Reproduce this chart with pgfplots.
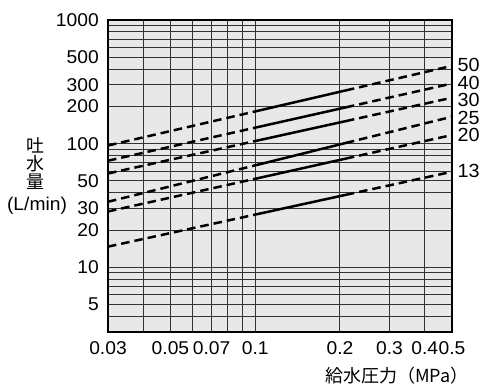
\documentclass[border=0pt]{standalone}
\usepackage{fontspec}
\setmainfont[FakeStretch=1.04]{Liberation Sans}
\newfontfamily\cjk{Noto Sans CJK JP}
\usepackage{pgfplots}
\pgfplotsset{compat=1.18}
\begin{document}
\begin{tikzpicture}
\useasboundingbox (-108pt,-59pt) rectangle (392pt,332pt);
\begin{axis}[
  at={(0pt,0pt)}, anchor=south west,
  scale only axis, width=344pt, height=312pt,
  xmode=log, ymode=log,
  xmin=0.03, xmax=0.5, ymin=3, ymax=1000,
  clip mode=individual,
  axis background/.style={fill=gray!18},
  axis line style={line width=2.2pt, black},
  grid=major,
  major grid style={black!80, line width=1pt},
  major tick length=0pt, minor tick length=0pt,
  xtick={0.03,0.04,0.05,0.06,0.07,0.08,0.09,0.1,0.2,0.3,0.4,0.5},
  xticklabels={0.03,{},0.05,{},0.07,{},{},0.1,0.2,0.3,0.4,0.5},
  ytick={3,4,5,6,7,8,9,10,20,30,40,50,60,70,80,90,100,200,300,400,500,600,700,800,900,1000},
  yticklabels={{},{},5,{},{},{},{},10,20,30,{},50,{},{},{},{},100,200,300,{},500,{},{},{},{},1000},
  xticklabel style={font=\fontsize{18.5}{20}\selectfont, anchor=north, inner sep=0pt, yshift=-9pt},
  yticklabel style={font=\fontsize{18.5}{20}\selectfont, anchor=east, inner sep=0pt, xshift=-9pt},
  /pgf/number format/assume math mode=true,
]
% 50
\addplot[black, line width=2.5pt, dash pattern=on 8.5pt off 5pt] coordinates {(0.03,96.6) (0.1,182.3)};
\addplot[black, line width=2.5pt] coordinates {(0.1,182.3) (0.21,269.7)};
\addplot[black, line width=2.5pt, dash pattern=on 8.5pt off 5pt] coordinates {(0.21,269.7) (0.5,426)};
% 40
\addplot[black, line width=2.5pt, dash pattern=on 8.5pt off 5pt] coordinates {(0.03,72.8) (0.1,134.7)};
\addplot[black, line width=2.5pt] coordinates {(0.1,134.7) (0.21,196.8)};
\addplot[black, line width=2.5pt, dash pattern=on 8.5pt off 5pt] coordinates {(0.21,196.8) (0.5,306.5)};
% 30
\addplot[black, line width=2.5pt, dash pattern=on 8.5pt off 5pt] coordinates {(0.03,57.4) (0.1,105.0)};
\addplot[black, line width=2.5pt] coordinates {(0.1,105.0) (0.21,152.3)};
\addplot[black, line width=2.5pt, dash pattern=on 8.5pt off 5pt] coordinates {(0.21,152.3) (0.5,235.3)};
% 25
\addplot[black, line width=2.5pt, dash pattern=on 8.5pt off 5pt] coordinates {(0.03,33.9) (0.1,66.8)};
\addplot[black, line width=2.5pt] coordinates {(0.1,66.8) (0.21,101.4)};
\addplot[black, line width=2.5pt, dash pattern=on 8.5pt off 5pt] coordinates {(0.21,101.4) (0.5,165.2)};
% 20
\addplot[black, line width=2.5pt, dash pattern=on 8.5pt off 5pt] coordinates {(0.03,28.3) (0.1,52.0)};
\addplot[black, line width=2.5pt] coordinates {(0.1,52.0) (0.21,75.8)};
\addplot[black, line width=2.5pt, dash pattern=on 8.5pt off 5pt] coordinates {(0.21,75.8) (0.5,117.5)};
% 13
\addplot[black, line width=2.5pt, dash pattern=on 8.5pt off 5pt] coordinates {(0.03,14.7) (0.1,26.7)};
\addplot[black, line width=2.5pt] coordinates {(0.1,26.7) (0.21,38.6)};
\addplot[black, line width=2.5pt, dash pattern=on 8.5pt off 5pt] coordinates {(0.21,38.6) (0.5,59.3)};
\end{axis}
% series labels
\begin{scope}[every node/.style={anchor=west, inner sep=0pt, font=\fontsize{19}{20}\selectfont}]
\node at (349.5pt,267.2pt) {50};
\node at (349.5pt,249.4pt) {40};
\node at (349.5pt,231.6pt) {30};
\node at (349.5pt,214pt) {25};
\node at (349.5pt,196.6pt) {20};
\node at (349.5pt,161.5pt) {13};
\end{scope}
% axis titles
\begin{scope}[every node/.style={inner sep=0pt, font=\cjk\fontsize{18}{19}\selectfont}]
\node at (-72pt,186.5pt) {吐};
\node at (-72pt,168.3pt) {水};
\node at (-72pt,150pt) {量};
\node at (289pt,-44pt) {給水圧力（MPa）};
\end{scope}
\node[inner sep=0pt, font=\fontsize{18.5}{19}\selectfont] at (-71pt,126pt) {(L/min)};
\end{tikzpicture}
\end{document}
